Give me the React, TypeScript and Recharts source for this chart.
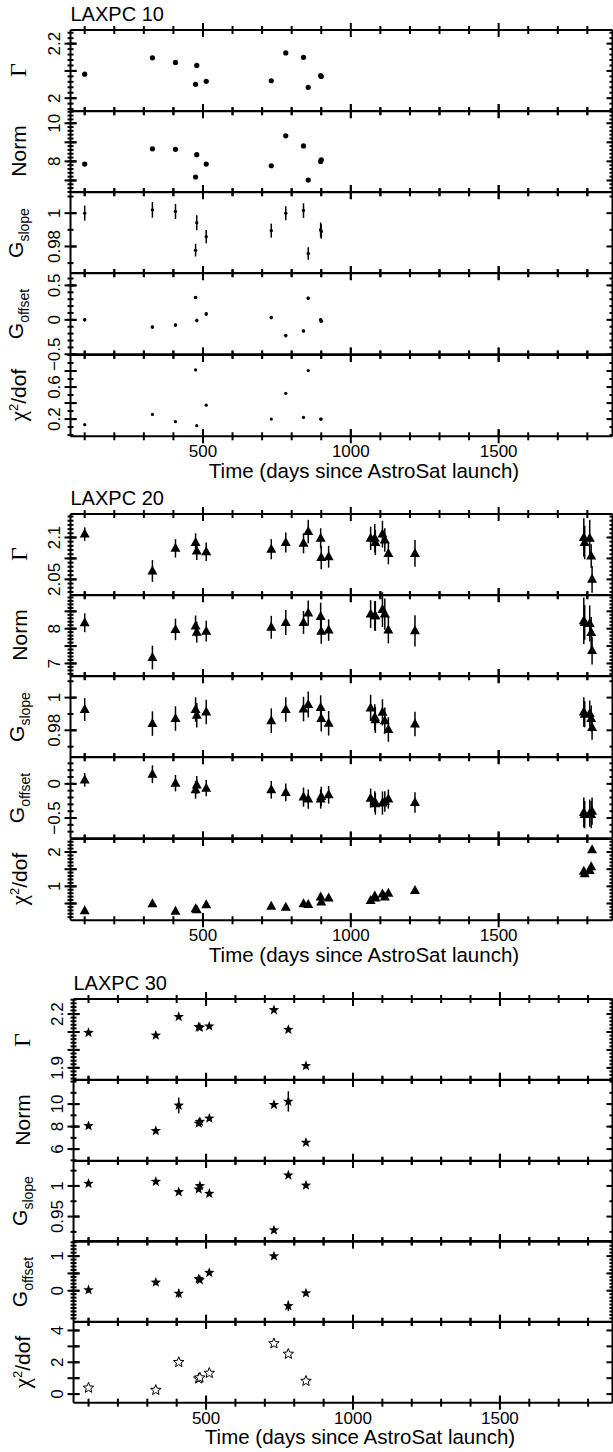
import React from "react";
import { ScatterChart, Scatter, XAxis, YAxis, ErrorBar } from "recharts";

const W = 613;
const PAD = 30;
const FONT = '"Liberation Sans", Arial, sans-serif';
const SERIF = '"Liberation Serif", "DejaVu Serif", serif';

const X_MAJOR = [500, 1000, 1500];
const X_MINOR = [100, 200, 300, 400, 600, 700, 800, 900, 1100, 1200, 1300, 1400, 1600, 1700, 1800];

// LAXPC 10
const DAYS_10 = [100, 329, 407, 475, 479, 511, 731, 780, 840, 856, 898, 900];
const GAMMA_10 = [2.088, 2.148, 2.131, 2.051, 2.12, 2.062, 2.064, 2.166, 2.15, 2.04, 2.083, 2.08];
const NORM_10 = [7.86, 8.66, 8.63, 7.18, 8.35, 7.86, 7.77, 9.34, 8.81, 7.02, 8.0, 8.08];
const GSLOPE_10 = [1.0, 1.002, 1.001, 0.9778, 0.9942, 0.9859, 0.9895, 1.0, 1.0016, 0.9758, 0.99, 0.989];
const GSLOPE_ERR_10 = [0.0045, 0.0047, 0.0045, 0.0038, 0.0045, 0.004, 0.0042, 0.0042, 0.0044, 0.0038, 0.0044, 0.0044];
const GOFFSET_10 = [0.0, -0.105, -0.076, 0.324, -0.01, 0.086, 0.033, -0.229, -0.162, 0.314, 0.0, -0.02];
const GOFFSET_ERR_10 = [0.02, 0.02, 0.02, 0.02, 0.025, 0.025, 0.025, 0.025, 0.02, 0.02, 0.025, 0.025];
const CHI_10 = [0.13, 0.258, 0.167, 0.814, 0.117, 0.373, 0.2, 0.522, 0.221, 0.806, 0.2, 0.2];

// LAXPC 20
const DAYS_20 = [100, 329, 407, 475, 479, 511, 731, 780, 840, 856, 898, 900, 925, 1067, 1081, 1083, 1107, 1115, 1127, 1217, 1788, 1791, 1808, 1813, 1816];
const GAMMA_20 = [2.104, 2.06, 2.087, 2.094, 2.084, 2.083, 2.086, 2.094, 2.093, 2.107, 2.099, 2.076, 2.077, 2.099, 2.099, 2.094, 2.104, 2.097, 2.081, 2.081, 2.1, 2.094, 2.099, 2.078, 2.05];
const GAMMA_ERR_20 = [0.008, 0.013, 0.011, 0.011, 0.011, 0.011, 0.012, 0.012, 0.012, 0.014, 0.012, 0.014, 0.013, 0.014, 0.017, 0.015, 0.016, 0.014, 0.013, 0.016, 0.023, 0.02, 0.022, 0.014, 0.016];
const NORM_20 = [8.17, 7.17, 7.98, 8.08, 7.9, 7.93, 8.04, 8.18, 8.18, 8.45, 8.35, 7.93, 7.96, 8.42, 8.37, 8.37, 8.55, 8.42, 7.96, 7.94, 8.23, 8.18, 8.15, 7.89, 7.37];
const NORM_ERR_20 = [0.27, 0.34, 0.31, 0.3, 0.3, 0.3, 0.33, 0.36, 0.33, 0.36, 0.4, 0.36, 0.31, 0.4, 0.43, 0.43, 0.5, 0.45, 0.38, 0.45, 0.67, 0.5, 0.52, 0.45, 0.4];
const GSLOPE_20 = [0.9927, 0.9841, 0.9872, 0.9927, 0.9892, 0.9912, 0.9859, 0.9927, 0.993, 0.9958, 0.9939, 0.9872, 0.9843, 0.9937, 0.988, 0.9864, 0.991, 0.9859, 0.9805, 0.9839, 0.9912, 0.9898, 0.9902, 0.9872, 0.9817];
const GSLOPE_ERR_20 = [0.007, 0.0075, 0.0075, 0.0075, 0.0075, 0.0075, 0.0075, 0.0075, 0.0075, 0.008, 0.0075, 0.008, 0.0075, 0.008, 0.008, 0.008, 0.008, 0.008, 0.0075, 0.0075, 0.009, 0.008, 0.008, 0.008, 0.0075];
const GOFFSET_20 = [0.058, 0.141, 0.01, -0.087, -0.015, -0.063, -0.087, -0.126, -0.194, -0.223, -0.223, -0.184, -0.16, -0.209, -0.258, -0.291, -0.281, -0.258, -0.223, -0.272, -0.42, -0.45, -0.43, -0.45, -0.4];
const GOFFSET_ERR_20 = [0.1, 0.13, 0.12, 0.13, 0.13, 0.12, 0.13, 0.13, 0.14, 0.14, 0.14, 0.14, 0.13, 0.14, 0.15, 0.16, 0.17, 0.15, 0.14, 0.15, 0.22, 0.2, 0.2, 0.2, 0.2];
const CHI_20 = [0.29, 0.49, 0.27, 0.35, 0.32, 0.46, 0.42, 0.39, 0.49, 0.47, 0.69, 0.54, 0.66, 0.59, 0.72, 0.66, 0.78, 0.69, 0.8, 0.88, 1.44, 1.37, 1.46, 1.57, 2.07];

// LAXPC 30
const DAYS_30 = [100, 329, 407, 475, 479, 511, 731, 780, 840];
const GAMMA_30 = [2.096, 2.081, 2.185, 2.128, 2.125, 2.132, 2.223, 2.113, 1.911];
const GAMMA_ERR_30 = [0.006, 0.006, 0.01, 0.006, 0.006, 0.006, 0.006, 0.008, 0.006];
const NORM_30 = [8.06, 7.62, 9.88, 8.29, 8.44, 8.73, 9.94, 10.23, 6.58];
const NORM_ERR_30 = [0.15, 0.1, 0.7, 0.15, 0.15, 0.1, 0.1, 0.9, 0.15];
const GSLOPE_30 = [1.0038, 1.007, 0.9902, 0.9945, 1.0, 0.9875, 0.9278, 1.0174, 1.001];
const GOFFSET_30 = [0.02, 0.24, -0.08, 0.34, 0.31, 0.52, 1.0, -0.44, -0.07];
const GOFFSET_ERR_30 = [0.07, 0.03, 0.12, 0.04, 0.04, 0.03, 0.03, 0.15, 0.05];
const CHI_30 = [0.39, 0.25, 2.0, 0.97, 1.03, 1.32, 3.18, 2.52, 0.82];

const steps = (a: number, b: number, s: number) => {
  const out: number[] = [];
  for (let v = a; v <= b + s / 2; v += s) out.push(Math.round(v * 10000) / 10000);
  return out;
};

const fmt = (v: number) => (v < 0 ? "\u2212" + Math.abs(v) : String(v));

const dot = (r: number) => (p: any) => <circle cx={p.cx} cy={p.cy} r={r} fill="#000" />;
const tri = (p: any) => (
  <polygon points={`${p.cx},${p.cy - 5.5} ${p.cx + 5},${p.cy + 3.5} ${p.cx - 5},${p.cy + 3.5}`} fill="#000" />
);
const starPts = (cx: number, cy: number, R: number, r: number) => {
  let s = "";
  for (let k = 0; k < 10; k++) {
    const a = -Math.PI / 2 + (k * Math.PI) / 5;
    const rr = k % 2 ? r : R;
    s += `${cx + rr * Math.cos(a)},${cy + rr * Math.sin(a)} `;
  }
  return s;
};
const star = (p: any) => <polygon points={starPts(p.cx, p.cy, 5.5, 2.3)} fill="#000" />;
const hollowStar = (p: any) => <polygon points={starPts(p.cx, p.cy, 5.5, 2.4)} fill="#fff" stroke="#000" strokeWidth={1} />;
const none = () => <g />;

// tick labels only (tickMargin equals the inward tick length, so p.x / p.y sit on the frame)
const mkLabel = (side: "b" | "l", labels: number[]) => (p: any) => {
  const v = p.payload.value;
  if (!labels.some((l) => Math.abs(l - v) < 1e-9)) return <g />;
  if (side === "b")
    return (
      <text x={p.x} y={p.y + 9} dy="0.71em" textAnchor="middle" fontSize={17} fontFamily={FONT} fill="#000">
        {fmt(v)}
      </text>
    );
  const x = p.x - 11;
  return (
    <text x={x} y={p.y} transform={`rotate(-90 ${x} ${p.y})`} textAnchor="middle" fontSize={17} fontFamily={FONT} fill="#000">
      {fmt(v)}
    </text>
  );
};

const AX = { stroke: "#000", strokeWidth: 2 };
const TICK = { stroke: "#000", strokeWidth: 2 };
// axes need a positive size to be drawn; keep it tiny so the plot box stays put
const THIN = 0.01;
const MAJ = 7;
const MIN = 4;
const YMAJ = 6;
const YMIN = 3;

type Spec = {
  label: React.ReactNode;
  vals: number[];
  errs?: number[];
  domain: [number, number];
  labels: number[];
  major: number[];
  minor: number[];
  shape: (p: any) => React.ReactElement;
};

function Panel({ top, h, left, xDomain, days, spec, bottom }: any) {
  const s: Spec = spec;
  const rows = days.map((d: number, i: number) => ({ x: d, y: s.vals[i], e: s.errs ? s.errs[i] : 0 }));
  const [x0, x1] = xDomain;
  const [y0, y1] = s.domain;
  const plotW = W - left - 0.5;
  const perPxX = (x1 - x0) / plotW;
  const perPxY = (y1 - y0) / h;
  const base = { type: "number" as const, allowDataOverflow: true, interval: 0 as const };
  const xc = { ...base, dataKey: "x", domain: xDomain, height: THIN };
  const yc = { ...base, dataKey: "y", domain: s.domain, width: THIN };
  // frame tick marks: points on the box edges carrying a bar of the tick length
  const frame: { x: number; y: number; ex: number; ey: number }[] = [];
  X_MAJOR.forEach((t) => {
    frame.push({ x: t, y: y0, ex: 0, ey: MAJ * perPxY });
    frame.push({ x: t, y: y1, ex: 0, ey: MAJ * perPxY });
  });
  X_MINOR.forEach((t) => {
    frame.push({ x: t, y: y0, ex: 0, ey: MIN * perPxY });
    frame.push({ x: t, y: y1, ex: 0, ey: MIN * perPxY });
  });
  s.major.forEach((t) => {
    frame.push({ x: x0, y: t, ex: YMAJ * perPxX, ey: 0 });
    frame.push({ x: x1, y: t, ex: YMAJ * perPxX, ey: 0 });
  });
  s.minor.forEach((t) => {
    frame.push({ x: x0, y: t, ex: YMIN * perPxX, ey: 0 });
    frame.push({ x: x1, y: t, ex: YMIN * perPxX, ey: 0 });
  });
  return (
    <div style={{ position: "absolute", left: 0, top: top - PAD }}>
      <ScatterChart width={W} height={h + 2 * PAD} margin={{ top: PAD, bottom: PAD, left, right: 0.5 }}>
        <XAxis xAxisId="b" {...xc} orientation="bottom" ticks={X_MAJOR} tickSize={-MAJ} tickMargin={MAJ} tickLine={TICK} axisLine={AX} tick={bottom ? mkLabel("b", X_MAJOR) : false} />
        <XAxis xAxisId="t" {...xc} orientation="top" ticks={X_MAJOR} tickSize={-MAJ} tickMargin={MAJ} tickLine={TICK} axisLine={AX} tick={false} />
        <YAxis yAxisId="l" {...yc} orientation="left" ticks={s.major} tickSize={-YMAJ} tickMargin={YMAJ} tickLine={TICK} axisLine={AX} tick={mkLabel("l", s.labels)} />
        <YAxis yAxisId="r" {...yc} orientation="right" ticks={s.major} tickSize={-YMAJ} tickMargin={YMAJ} tickLine={TICK} axisLine={AX} tick={false} />
        <Scatter name="frame" data={frame} xAxisId="b" yAxisId="l" dataKey="y" shape={none} isAnimationActive={false}>
          <ErrorBar dataKey="ey" direction="y" width={0} stroke="#000" strokeWidth={2} isAnimationActive={false} />
          <ErrorBar dataKey="ex" direction="x" width={0} stroke="#000" strokeWidth={2} isAnimationActive={false} />
        </Scatter>
        <Scatter name="obs" data={rows} xAxisId="b" yAxisId="l" dataKey="y" shape={s.shape} isAnimationActive={false}>
          {s.errs && <ErrorBar dataKey="e" direction="y" width={0} stroke="#000" strokeWidth={1.5} isAnimationActive={false} />}
        </Scatter>
      </ScatterChart>
    </div>
  );
}

const YLab = ({ x, y, children }: any) => (
  <div
    style={{
      position: "absolute",
      left: x,
      top: y,
      transform: "translate(-50%, -50%) rotate(-90deg)",
      whiteSpace: "nowrap",
      fontFamily: FONT,
      fontSize: 21,
      lineHeight: 1,
    }}
  >
    {children}
  </div>
);

const GAMMA_LAB = <span style={{ fontFamily: SERIF, fontSize: 24 }}>Γ</span>;
const NORM_LAB = <span>Norm</span>;
const SLOPE_LAB = (
  <span>
    G<sub style={{ fontSize: 14 }}>slope</sub>
  </span>
);
const OFFSET_LAB = (
  <span>
    G<sub style={{ fontSize: 14 }}>offset</sub>
  </span>
);
const CHI_LAB = (
  <span>
    <span style={{ fontFamily: SERIF, fontSize: 23 }}>χ</span>
    <sup style={{ fontSize: 13 }}>2</sup>/dof
  </span>
);

function Group({ title, top, h, left, xDomain, days, specs, labX, xLabX }: any) {
  return (
    <>
      <div style={{ position: "absolute", left, top: top - 26, fontFamily: FONT, fontSize: 20, lineHeight: "20px" }}>{title}</div>
      {specs.map((s: Spec, i: number) => (
        <Panel key={i} top={top + i * h} h={h} left={left} xDomain={xDomain} days={days} spec={s} bottom={i === specs.length - 1} />
      ))}
      {specs.map((s: Spec, i: number) => (
        <YLab key={"l" + i} x={labX} y={top + i * h + h / 2}>
          {s.label}
        </YLab>
      ))}
      <div
        style={{
          position: "absolute",
          left: xLabX,
          top: top + 5 * h + 23.5,
          transform: "translateX(-50%)",
          whiteSpace: "nowrap",
          fontFamily: FONT,
          fontSize: 20.5,
          lineHeight: "22px",
        }}
      >
        Time (days since AstroSat launch)
      </div>
    </>
  );
}

const SPECS_10: Spec[] = [
  { label: GAMMA_LAB, vals: GAMMA_10, domain: [1.952, 2.25], labels: [2, 2.2], major: [2, 2.1, 2.2], minor: steps(1.96, 2.24, 0.02), shape: dot(2.6) },
  { label: NORM_LAB, vals: NORM_10, domain: [6.38, 10.64], labels: [8, 10], major: [7, 8, 9, 10], minor: steps(6.4, 10.6, 0.2), shape: dot(2.6) },
  { label: SLOPE_LAB, vals: GSLOPE_10, errs: GSLOPE_ERR_10, domain: [0.9639, 1.0127], labels: [0.98, 1], major: [0.98, 1], minor: [0.97, 0.99, 1.01], shape: dot(1.7) },
  { label: OFFSET_LAB, vals: GOFFSET_10, errs: GOFFSET_ERR_10, domain: [-0.5, 0.68], labels: [-0.5, 0, 0.5], major: [-0.5, 0, 0.5], minor: steps(-0.4, 0.6, 0.1), shape: dot(1.8) },
  { label: CHI_LAB, vals: CHI_10, domain: [-0.015, 1.0], labels: [0.2, 0.6], major: [0.2, 0.4, 0.6, 0.8], minor: steps(0, 1, 0.1), shape: dot(1.6) },
];

const SPECS_20: Spec[] = [
  { label: GAMMA_LAB, vals: GAMMA_20, errs: GAMMA_ERR_20, domain: [2.031, 2.128], labels: [2.05, 2.1], major: [2.05, 2.075, 2.1], minor: steps(2.035, 2.125, 0.005), shape: tri },
  { label: NORM_LAB, vals: NORM_20, errs: NORM_ERR_20, domain: [6.63, 8.97], labels: [7, 8], major: [7, 7.5, 8, 8.5], minor: steps(6.7, 8.9, 0.1), shape: tri },
  { label: SLOPE_LAB, vals: GSLOPE_20, errs: GSLOPE_ERR_20, domain: [0.9635, 1.0132], labels: [0.98, 1], major: [0.98, 1], minor: [0.97, 0.99, 1.01], shape: tri },
  { label: OFFSET_LAB, vals: GOFFSET_20, errs: GOFFSET_ERR_20, domain: [-0.797, 0.393], labels: [-0.5, 0], major: [-0.5, 0], minor: steps(-0.7, 0.3, 0.1), shape: tri },
  { label: CHI_LAB, vals: CHI_20, domain: [0.01, 2.38], labels: [1, 2], major: [0.5, 1, 1.5, 2], minor: steps(0.1, 2.3, 0.1), shape: tri },
];

const SPECS_30: Spec[] = [
  { label: GAMMA_LAB, vals: GAMMA_30, errs: GAMMA_ERR_30, domain: [1.834, 2.284], labels: [1.9, 2.2], major: [1.9, 2, 2.1, 2.2], minor: steps(1.84, 2.28, 0.02), shape: star },
  { label: NORM_LAB, vals: NORM_30, errs: NORM_ERR_30, domain: [4.97, 12.14], labels: [6, 8, 10], major: [6, 8, 10], minor: steps(5, 12, 1), shape: star },
  { label: SLOPE_LAB, vals: GSLOPE_30, domain: [0.909, 1.0407], labels: [0.95, 1], major: [0.95, 1], minor: [0.925, 0.975, 1.025], shape: star },
  { label: OFFSET_LAB, vals: GOFFSET_30, errs: GOFFSET_ERR_30, domain: [-0.895, 1.437], labels: [0, 1], major: [0, 0.5, 1], minor: steps(-0.8, 1.4, 0.1), shape: star },
  { label: CHI_LAB, vals: CHI_30, domain: [-0.54, 4.53], labels: [0, 2, 4], major: [0, 1, 2, 3, 4], minor: [], shape: hollowStar },
];

export default function App() {
  return (
    <div style={{ position: "absolute", left: 0, top: 0, width: W, height: 1452, background: "#fff", overflow: "hidden" }}>
      <Group title="LAXPC 10" top={29.5} h={81.3} left={70.5} xDomain={[52, 1885]} days={DAYS_10} specs={SPECS_10} labX={18} xLabX={364} />
      <Group title="LAXPC 20" top={513.5} h={81.3} left={70.5} xDomain={[52, 1885]} days={DAYS_20} specs={SPECS_20} labX={19} xLabX={364} />
      <Group title="LAXPC 30" top={999.3} h={80.7} left={73.5} xDomain={[49, 1883]} days={DAYS_30} specs={SPECS_30} labX={22} xLabX={360} />
    </div>
  );
}
